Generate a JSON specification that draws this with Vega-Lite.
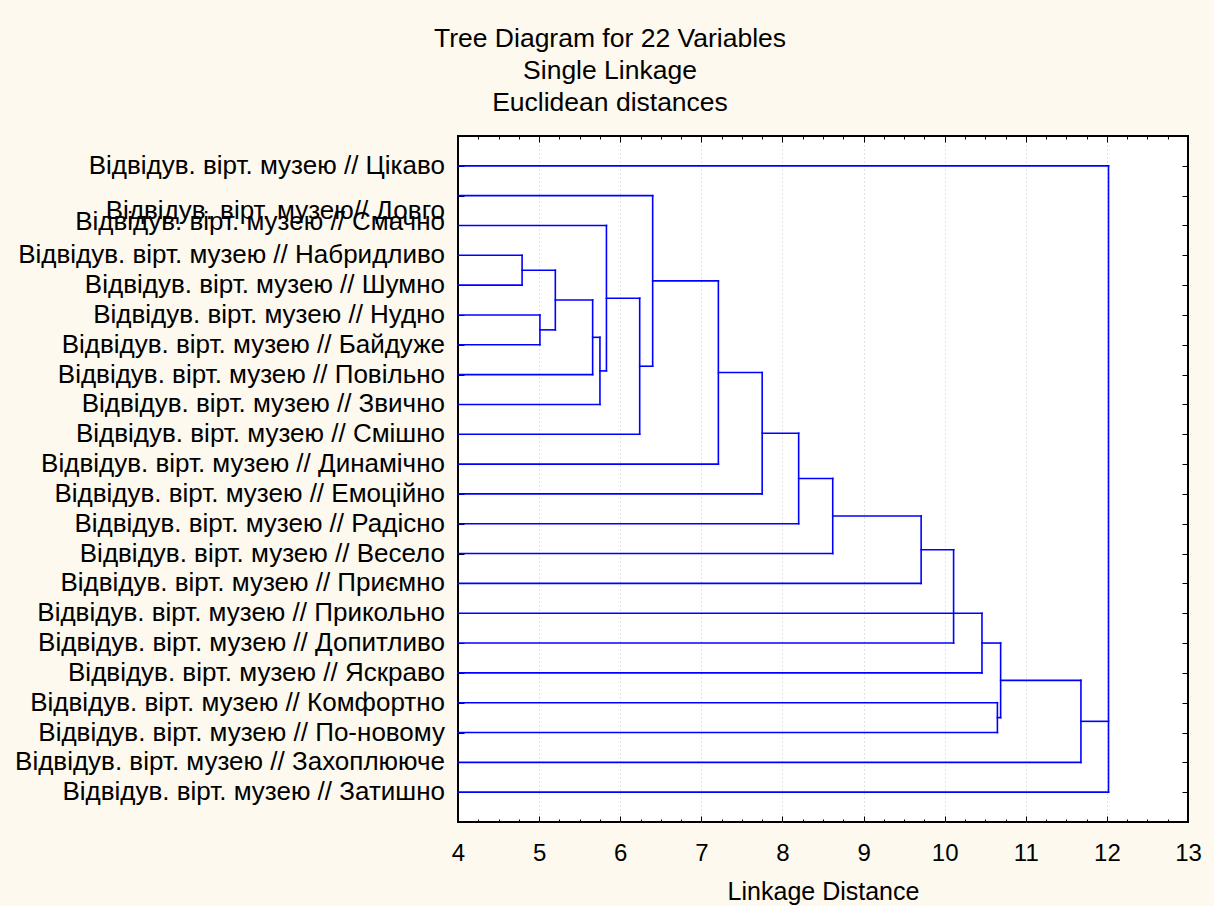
{
  "$schema": "https://vega.github.io/schema/vega-lite/v6.json",
  "width": 730,
  "height": 686,
  "autosize": "none",
  "padding": {"left": 458, "top": 136, "right": 26, "bottom": 84},
  "background": "#fdf9ef",
  "config": {
    "view": {"fill": "white", "stroke": "black", "strokeWidth": 2},
    "font": "Liberation Sans",
    "axis": {"labelFont": "Liberation Sans", "titleFont": "Liberation Sans", "labelColor": "black", "titleColor": "black", "tickColor": "black"}
  },
  "title": {
    "text": ["Tree Diagram for 22  Variables", "Single Linkage", "Euclidean distances"],
    "font": "Liberation Sans",
    "fontSize": 26.5,
    "fontWeight": "normal",
    "lineHeight": 32,
    "anchor": "middle",
    "frame": "group",
    "dx": -213,
    "offset": 19,
    "color": "black"
  },
  "datasets": {
    "segments": [
      {"x": 4, "x2": 12.02, "y": 0, "y2": 0},
      {"x": 4, "x2": 6.40, "y": 1, "y2": 1},
      {"x": 4, "x2": 5.83, "y": 2, "y2": 2},
      {"x": 4, "x2": 4.79, "y": 3, "y2": 3},
      {"x": 4, "x2": 4.79, "y": 4, "y2": 4},
      {"x": 4, "x2": 5.01, "y": 5, "y2": 5},
      {"x": 4, "x2": 5.01, "y": 6, "y2": 6},
      {"x": 4, "x2": 5.66, "y": 7, "y2": 7},
      {"x": 4, "x2": 5.75, "y": 8, "y2": 8},
      {"x": 4, "x2": 6.24, "y": 9, "y2": 9},
      {"x": 4, "x2": 7.21, "y": 10, "y2": 10},
      {"x": 4, "x2": 7.75, "y": 11, "y2": 11},
      {"x": 4, "x2": 8.20, "y": 12, "y2": 12},
      {"x": 4, "x2": 8.62, "y": 13, "y2": 13},
      {"x": 4, "x2": 9.71, "y": 14, "y2": 14},
      {"x": 4, "x2": 10.46, "y": 15, "y2": 15},
      {"x": 4, "x2": 10.11, "y": 16, "y2": 16},
      {"x": 4, "x2": 10.46, "y": 17, "y2": 17},
      {"x": 4, "x2": 10.65, "y": 18, "y2": 18},
      {"x": 4, "x2": 10.65, "y": 19, "y2": 19},
      {"x": 4, "x2": 11.68, "y": 20, "y2": 20},
      {"x": 4, "x2": 12.02, "y": 21, "y2": 21},
      {"x": 4.79, "x2": 5.20, "y": 3.5, "y2": 3.5},
      {"x": 5.01, "x2": 5.20, "y": 5.5, "y2": 5.5},
      {"x": 5.20, "x2": 5.66, "y": 4.5, "y2": 4.5},
      {"x": 5.66, "x2": 5.75, "y": 5.75, "y2": 5.75},
      {"x": 5.75, "x2": 5.83, "y": 6.875, "y2": 6.875},
      {"x": 5.83, "x2": 6.24, "y": 4.4375, "y2": 4.4375},
      {"x": 6.24, "x2": 6.40, "y": 6.71875, "y2": 6.71875},
      {"x": 6.40, "x2": 7.21, "y": 3.859, "y2": 3.859},
      {"x": 7.21, "x2": 7.75, "y": 6.93, "y2": 6.93},
      {"x": 7.75, "x2": 8.20, "y": 8.965, "y2": 8.965},
      {"x": 8.20, "x2": 8.62, "y": 10.482, "y2": 10.482},
      {"x": 8.62, "x2": 9.71, "y": 11.741, "y2": 11.741},
      {"x": 9.71, "x2": 10.11, "y": 12.871, "y2": 12.871},
      {"x": 10.46, "x2": 10.69, "y": 16, "y2": 16},
      {"x": 10.65, "x2": 10.69, "y": 18.5, "y2": 18.5},
      {"x": 10.69, "x2": 11.68, "y": 17.25, "y2": 17.25},
      {"x": 11.68, "x2": 12.02, "y": 18.625, "y2": 18.625},
      {"x": 4.79, "x2": 4.79, "y": 3, "y2": 4},
      {"x": 5.01, "x2": 5.01, "y": 5, "y2": 6},
      {"x": 5.20, "x2": 5.20, "y": 3.5, "y2": 5.5},
      {"x": 5.66, "x2": 5.66, "y": 4.5, "y2": 7},
      {"x": 5.75, "x2": 5.75, "y": 5.75, "y2": 8},
      {"x": 5.83, "x2": 5.83, "y": 2, "y2": 6.875},
      {"x": 6.24, "x2": 6.24, "y": 4.4375, "y2": 9},
      {"x": 6.40, "x2": 6.40, "y": 1, "y2": 6.71875},
      {"x": 7.21, "x2": 7.21, "y": 3.859, "y2": 10},
      {"x": 7.75, "x2": 7.75, "y": 6.93, "y2": 11},
      {"x": 8.20, "x2": 8.20, "y": 8.965, "y2": 12},
      {"x": 8.62, "x2": 8.62, "y": 10.482, "y2": 13},
      {"x": 9.71, "x2": 9.71, "y": 11.741, "y2": 14},
      {"x": 10.11, "x2": 10.11, "y": 12.871, "y2": 16},
      {"x": 10.46, "x2": 10.46, "y": 15, "y2": 17},
      {"x": 10.65, "x2": 10.65, "y": 18, "y2": 19},
      {"x": 10.69, "x2": 10.69, "y": 16, "y2": 18.5},
      {"x": 11.68, "x2": 11.68, "y": 17.25, "y2": 20},
      {"x": 12.02, "x2": 12.02, "y": 0, "y2": 21}
    ],
    "leaves": [
      {"label": "Відвідув. вірт. музею // Цікаво", "pos": 0},
      {"label": "Відвідув. вірт. музею// Довго", "pos": 1.5},
      {"label": "Відвідув. вірт. музею // Смачно", "pos": 1.9},
      {"label": "Відвідув. вірт. музею // Набридливо", "pos": 3},
      {"label": "Відвідув. вірт. музею // Шумно", "pos": 4},
      {"label": "Відвідув. вірт. музею // Нудно", "pos": 5},
      {"label": "Відвідув. вірт. музею // Байдуже", "pos": 6},
      {"label": "Відвідув. вірт. музею // Повільно", "pos": 7},
      {"label": "Відвідув. вірт. музею // Звично", "pos": 8},
      {"label": "Відвідув. вірт. музею // Смішно", "pos": 9},
      {"label": "Відвідув. вірт. музею // Динамічно", "pos": 10},
      {"label": "Відвідув. вірт. музею // Емоційно", "pos": 11},
      {"label": "Відвідув. вірт. музею // Радісно", "pos": 12},
      {"label": "Відвідув. вірт. музею // Весело", "pos": 13},
      {"label": "Відвідув. вірт. музею // Приємно", "pos": 14},
      {"label": "Відвідув. вірт. музею // Прикольно", "pos": 15},
      {"label": "Відвідув. вірт. музею // Допитливо", "pos": 16},
      {"label": "Відвідув. вірт. музею // Яскраво", "pos": 17},
      {"label": "Відвідув. вірт. музею // Комфортно", "pos": 18},
      {"label": "Відвідув. вірт. музею // По-новому", "pos": 19},
      {"label": "Відвідув. вірт. музею // Захоплююче", "pos": 20},
      {"label": "Відвідув. вірт. музею // Затишно", "pos": 21}
    ]
  },
  "layer": [
    {
      "data": {"name": "segments"},
      "mark": {"type": "rule", "color": "#0000ff", "strokeWidth": 1.6, "strokeCap": "square"},
      "encoding": {
        "x": {
          "field": "x", "type": "quantitative",
          "scale": {"domain": [4, 13], "nice": false, "zero": false},
          "axis": {
            "orient": "bottom",
            "values": [4, 4.25, 4.5, 4.75, 5, 5.25, 5.5, 5.75, 6, 6.25, 6.5, 6.75, 7, 7.25, 7.5, 7.75, 8, 8.25, 8.5, 8.75, 9, 9.25, 9.5, 9.75, 10, 10.25, 10.5, 10.75, 11, 11.25, 11.5, 11.75, 12, 12.25, 12.5, 12.75, 13],
            "format": "~g",
            "tickSize": {"condition": {"test": "datum.value % 1 === 0", "value": -6}, "value": -3},
            "labelExpr": "datum.value % 1 === 0 ? datum.label : ''",
            "labelOverlap": false,
            "labelFlush": false,
            "labelFontSize": 24,
            "labelPadding": 25,
            "domain": false,
            "grid": true,
            "gridDash": [1, 3],
            "gridColor": "#c8c8c8",
            "gridOpacity": {"condition": {"test": "datum.value % 1 === 0 && datum.value > 4 && datum.value < 13", "value": 1}, "value": 0},
            "title": "Linkage Distance",
            "titleFontSize": 25,
            "titleFontWeight": "normal",
            "titlePadding": 11
          }
        },
        "x2": {"field": "x2"},
        "y": {
          "field": "y", "type": "quantitative",
          "scale": {"domain": [-1, 22], "nice": false, "zero": false, "reverse": true},
          "axis": {
            "orient": "left",
            "values": [0, 1, 2, 3, 4, 5, 6, 7, 8, 9, 10, 11, 12, 13, 14, 15, 16, 17, 18, 19, 20, 21],
            "labels": false,
            "tickSize": -6,
            "domain": false,
            "grid": false,
            "title": null
          }
        },
        "y2": {"field": "y2"}
      }
    },
    {
      "data": {"name": "leaves"},
      "mark": {"type": "text", "align": "right", "baseline": "middle", "dx": -13, "fontSize": 26, "font": "Liberation Sans", "color": "black"},
      "encoding": {
        "x": {
          "datum": 4, "type": "quantitative",
          "scale": {"domain": [4, 13], "nice": false, "zero": false},
          "axis": {
            "orient": "top",
            "values": [4, 4.25, 4.5, 4.75, 5, 5.25, 5.5, 5.75, 6, 6.25, 6.5, 6.75, 7, 7.25, 7.5, 7.75, 8, 8.25, 8.5, 8.75, 9, 9.25, 9.5, 9.75, 10, 10.25, 10.5, 10.75, 11, 11.25, 11.5, 11.75, 12, 12.25, 12.5, 12.75, 13],
            "tickSize": {"condition": {"test": "datum.value % 1 === 0", "value": -6}, "value": -3},
            "labels": false,
            "domain": false,
            "grid": false,
            "title": null
          }
        },
        "y": {
          "field": "pos", "type": "quantitative",
          "scale": {"domain": [-1, 22], "nice": false, "zero": false, "reverse": true},
          "axis": {
            "orient": "right",
            "values": [0, 1, 2, 3, 4, 5, 6, 7, 8, 9, 10, 11, 12, 13, 14, 15, 16, 17, 18, 19, 20, 21],
            "labels": false,
            "tickSize": -6,
            "domain": false,
            "grid": false,
            "title": null
          }
        },
        "text": {"field": "label"}
      }
    }
  ],
  "resolve": {"axis": {"x": "independent", "y": "independent"}}
}
